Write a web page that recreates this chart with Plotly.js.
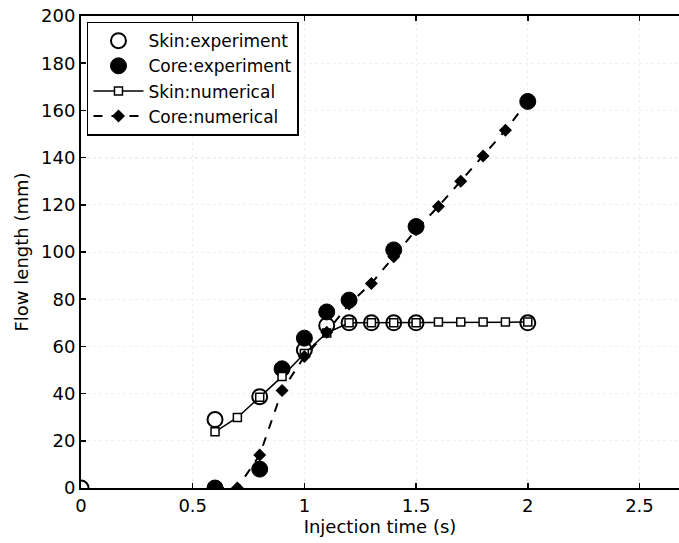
<!DOCTYPE html>
<html>
<head>
<meta charset="utf-8">
<script src="https://cdn.plot.ly/plotly-3.0.1.min.js"></script>
<style>html,body{margin:0;padding:0;background:#fff;}#chart{width:679px;height:543px;}</style>
</head>
<body>
<div id="chart"></div>
<script>
// Skin: experiment (open circles)
const skinExpT = [0, 0.6, 0.8, 1.0, 1.1, 1.2, 1.3, 1.4, 1.5, 2.0];
const skinExpL = [0, 29, 38.7, 58.5, 68.9, 70, 70, 70, 70, 70];
// Core: experiment (filled circles)
const coreExpT = [0.6, 0.8, 0.9, 1.0, 1.1, 1.2, 1.4, 1.5, 2.0];
const coreExpL = [0, 8, 50.5, 63.5, 74.6, 79.6, 100.9, 110.8, 163.8];
// Skin: numerical (squares, solid line)
const skinNumT = [0.6, 0.7, 0.8, 0.9, 1.0, 1.1, 1.2, 1.3, 1.4, 1.5, 1.6, 1.7, 1.8, 1.9, 2.0];
const skinNumL = [23.8, 29.9, 38.5, 47.2, 57, 65.7, 70, 70, 70, 70, 70.3, 70.3, 70.3, 70.3, 70.3];
// Core: numerical (diamonds, dashed line)
const coreNumT = [0.6, 0.7, 0.8, 0.9, 1.0, 1.1, 1.2, 1.3, 1.4, 1.5, 1.6, 1.7, 1.8, 1.9, 2.0];
const coreNumL = [0, 0, 14, 41.3, 55.7, 66, 78, 86.7, 98, 109.4, 119.3, 130, 140.7, 151.6, 163.8];

const xTicks = [0, 0.5, 1, 1.5, 2, 2.5];
const xTickText = ['0', '0.5', '1', '1.5', '2', '2.5'];
const yTicks = [0, 20, 40, 60, 80, 100, 120, 140, 160, 180, 200];

const FONT = 'DejaVu Sans, Liberation Sans, sans-serif';

const traces = [
  {
    x: skinExpT, y: skinExpL, name: 'Skin:experiment', mode: 'markers', type: 'scatter',
    marker: {symbol: 'circle', size: 15, color: '#fff', line: {color: '#000', width: 2}}
  },
  {
    x: coreExpT, y: coreExpL, name: 'Core:experiment', mode: 'markers', type: 'scatter',
    marker: {symbol: 'circle', size: 16, color: '#000', line: {color: '#000', width: 1}}
  },
  {
    x: skinNumT, y: skinNumL, name: 'Skin:numerical', mode: 'lines+markers', type: 'scatter',
    line: {color: '#000', width: 1.5},
    marker: {symbol: 'square', size: 8, color: '#fff', line: {color: '#000', width: 1.5}}
  },
  {
    x: coreNumT, y: coreNumL, name: 'Core:numerical', mode: 'lines+markers', type: 'scatter',
    line: {color: '#000', width: 2, dash: 'dash'},
    marker: {symbol: 'diamond', size: 10, color: '#000'}
  }
];

const layout = {
  width: 679, height: 543,
  margin: {l: 81, r: 0, t: 16, b: 55, pad: 0},
  paper_bgcolor: '#fff', plot_bgcolor: '#fff',
  font: {family: FONT, size: 18, color: '#000'},
  showlegend: true,
  legend: {
    x: 0.01, y: 0.988, xanchor: 'left', yanchor: 'top',
    bgcolor: '#fff', bordercolor: '#000', borderwidth: 1.5,
    font: {family: FONT, size: 17, color: '#000'},
    itemwidth: 50, itemsizing: 'trace'
  },
  xaxis: {
    range: [0, 2.677], tickvals: xTicks, ticktext: xTickText,
    ticks: 'inside', ticklen: 5, tickwidth: 1.5, tickcolor: '#000',
    showline: true, linecolor: '#000', linewidth: 2, mirror: 'ticks',
    showgrid: true, gridcolor: '#f0f0f0', griddash: 'dot', gridwidth: 1,
    zeroline: false,
    tickfont: {family: FONT, size: 18, color: '#000'},
    title: {text: 'Injection time (s)', font: {family: FONT, size: 18, color: '#000'}, standoff: 6}
  },
  yaxis: {
    range: [0, 200], tickvals: yTicks,
    ticks: 'inside', ticklen: 5, tickwidth: 1.5, tickcolor: '#000',
    showline: true, linecolor: '#000', linewidth: 2, mirror: false,
    showgrid: true, gridcolor: '#f0f0f0', griddash: 'dot', gridwidth: 1,
    zeroline: false,
    tickfont: {family: FONT, size: 18, color: '#000'},
    title: {text: 'Flow length (mm)', font: {family: FONT, size: 18, color: '#000'}, standoff: 8}
  },
  shapes: [
    {type: 'line', xref: 'paper', yref: 'y', x0: 0, x1: 1, y0: 140, y1: 140,
     line: {color: '#555', width: 1, dash: 'dot'}, layer: 'below'}
  ]
};

Plotly.newPlot('chart', traces, layout, {displayModeBar: false, staticPlot: true});
</script>
</body>
</html>
